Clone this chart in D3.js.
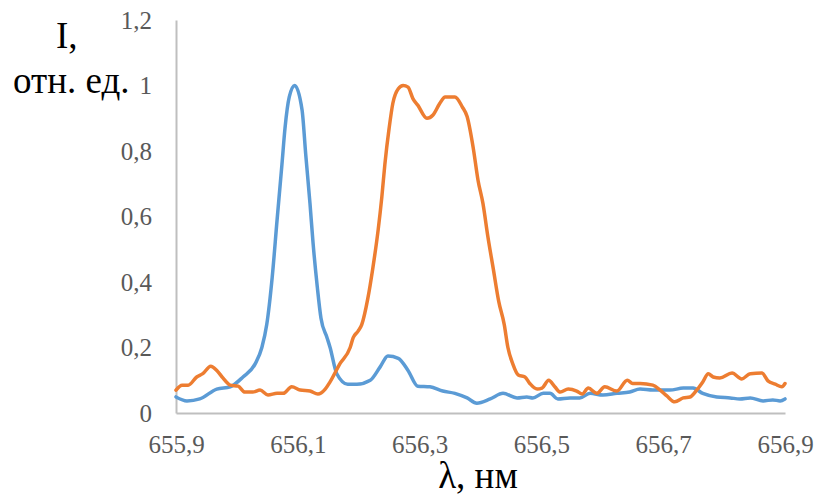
<!DOCTYPE html>
<html>
  <head>
    <meta charset="utf-8">
    <script src="https://d3js.org/d3.v7.min.js"></script>
    <style>
      body { margin: 0; background: #fff; }
      text { font-family: "Liberation Serif", "Times New Roman", serif; }
    </style>
  </head>
  <body>
    <svg id="chart" width="817" height="497"></svg>

    <script>
      // blue line (wavelength, nm / relative intensity)
      const blueX = [655.900, 655.918, 655.939, 655.967, 655.989, 656.010, 656.030, 656.041, 656.049,
        656.058, 656.066, 656.074, 656.079, 656.086, 656.095, 656.107, 656.113, 656.120, 656.125,
        656.132, 656.138, 656.148, 656.153, 656.164, 656.182, 656.197, 656.219, 656.235, 656.248,
        656.265, 656.281, 656.297, 656.317, 656.338, 656.358, 656.378, 656.394, 656.416, 656.437,
        656.460, 656.476, 656.486, 656.503, 656.514, 656.527, 656.547, 656.563, 656.580, 656.601,
        656.624, 656.645, 656.662, 656.683, 656.711, 656.733, 656.749, 656.765, 656.788, 656.810,
        656.826, 656.843, 656.864, 656.880, 656.892, 656.900];
      const blueY = [0.049, 0.037, 0.043, 0.073, 0.080, 0.110, 0.150, 0.200, 0.270,
        0.415, 0.590, 0.760, 0.870, 0.965, 1.000, 0.925, 0.790, 0.640, 0.520,
        0.385, 0.290, 0.230, 0.200, 0.120, 0.088, 0.088, 0.100, 0.140, 0.174,
        0.167, 0.130, 0.082, 0.080, 0.067, 0.060, 0.046, 0.030, 0.043, 0.060,
        0.046, 0.049, 0.046, 0.060, 0.060, 0.043, 0.046, 0.046, 0.060, 0.055,
        0.060, 0.064, 0.073, 0.070, 0.070, 0.076, 0.076, 0.060, 0.049, 0.046,
        0.043, 0.046, 0.037, 0.040, 0.037, 0.043];

      // orange line
      const orangeX = [655.900, 655.910, 655.920, 655.934, 655.944, 655.957, 655.967, 655.977, 655.989,
        656.002, 656.013, 656.026, 656.038, 656.051, 656.066, 656.076, 656.090, 656.104, 656.120,
        656.133, 656.145, 656.153, 656.169, 656.186, 656.191, 656.199, 656.205, 656.215, 656.223,
        656.232, 656.238, 656.243, 656.250, 656.256, 656.265, 656.273, 656.281, 656.289, 656.297,
        656.312, 656.322, 656.333, 656.342, 656.358, 656.370, 656.378, 656.388, 656.396, 656.404,
        656.412, 656.421, 656.430, 656.439, 656.445, 656.453, 656.462, 656.473, 656.481, 656.493,
        656.501, 656.512, 656.522, 656.531, 656.544, 656.558, 656.567, 656.577, 656.591, 656.604,
        656.624, 656.641, 656.650, 656.662, 656.683, 656.695, 656.706, 656.719, 656.733, 656.744,
        656.755, 656.765, 656.774, 656.782, 656.793, 656.813, 656.829, 656.843, 656.862, 656.872,
        656.884, 656.895, 656.900];
      const orangeY = [0.070, 0.085, 0.085, 0.110, 0.120, 0.143, 0.130, 0.107, 0.085,
        0.082, 0.064, 0.064, 0.070, 0.055, 0.060, 0.060, 0.080, 0.070, 0.067,
        0.058, 0.073, 0.095, 0.150, 0.200, 0.230, 0.250, 0.270, 0.350, 0.440,
        0.560, 0.660, 0.760, 0.870, 0.945, 0.990, 1.000, 0.995, 0.960, 0.940,
        0.900, 0.910, 0.945, 0.965, 0.965, 0.935, 0.905, 0.810, 0.710, 0.640,
        0.540, 0.440, 0.340, 0.270, 0.200, 0.150, 0.116, 0.110, 0.090, 0.073,
        0.076, 0.100, 0.080, 0.064, 0.073, 0.067, 0.058, 0.076, 0.060, 0.080,
        0.067, 0.100, 0.090, 0.090, 0.085, 0.070, 0.052, 0.034, 0.046, 0.049,
        0.070, 0.095, 0.120, 0.110, 0.107, 0.122, 0.104, 0.120, 0.122, 0.098,
        0.088, 0.080, 0.090];

      const xTicks = [655.9, 656.1, 656.3, 656.5, 656.7, 656.9];
      const yTicks = [0, 0.2, 0.4, 0.6, 0.8, 1, 1.2];

      var svg = d3.select("#chart");
      // plot area edges (window.top is reserved, so plotTop)
      var plotLeft = 176, plotRight = 785, plotTop = 20, plotBottom = 413;

      var x = d3.scaleLinear().domain([655.9, 656.9]).range([plotLeft, plotRight]);
      var y = d3.scaleLinear().domain([0, 1.2]).range([plotBottom, plotTop]);

      var fmt = function(d) { return String(+d.toFixed(1)).replace(".", ","); };

      // axes: just the gray lines, no tick marks
      var xAxis = d3.axisBottom(x).tickValues(xTicks).tickSize(0).tickPadding(22).tickFormat(fmt);
      var gx = svg.append("g").attr("transform", "translate(0," + plotBottom + ")").call(xAxis);
      gx.select(".domain").attr("stroke", "#bfbfbf").attr("stroke-width", 2);
      gx.selectAll("text")
        .attr("fill", "#595959")
        .style("font-size", "25px")
        .style("font-family", "'Liberation Serif', 'Times New Roman', serif");

      var yAxis = d3.axisLeft(y).tickValues(yTicks).tickSize(0).tickPadding(24).tickFormat(fmt);
      var gy = svg.append("g").attr("transform", "translate(" + plotLeft + ",0)").call(yAxis);
      gy.select(".domain").attr("stroke", "#bfbfbf").attr("stroke-width", 2);
      gy.selectAll("text")
        .attr("fill", "#595959")
        .style("font-size", "25px")
        .style("font-family", "'Liberation Serif', 'Times New Roman', serif");

      var line = d3.line()
        .x(function(d) { return x(d[0]); })
        .y(function(d) { return y(d[1]); })
        .curve(d3.curveMonotoneX);

      var series = [
        { xs: blueX, ys: blueY, color: "#5b9bd5" },
        { xs: orangeX, ys: orangeY, color: "#ed7d31" }
      ];

      series.forEach(function(s) {
        svg.append("path")
          .datum(s.xs.map(function(v, i) { return [v, s.ys[i]]; }))
          .attr("d", line)
          .attr("fill", "none")
          .attr("stroke", s.color)
          .attr("stroke-width", 3.5)
          .attr("stroke-linejoin", "round")
          .attr("stroke-linecap", "round");
      });

      // axis titles
      svg.append("text").attr("x", 56).attr("y", 48)
        .style("font-size", "37px").attr("fill", "#000").text("I,");
      svg.append("text").attr("x", 13).attr("y", 93)
        .style("font-size", "37px").attr("fill", "#000").text("отн. ед.");
      svg.append("text").attr("x", 478).attr("y", 488).attr("text-anchor", "middle")
        .style("font-size", "37px").attr("fill", "#000").text("λ, нм");
    </script>
  </body>
</html>
